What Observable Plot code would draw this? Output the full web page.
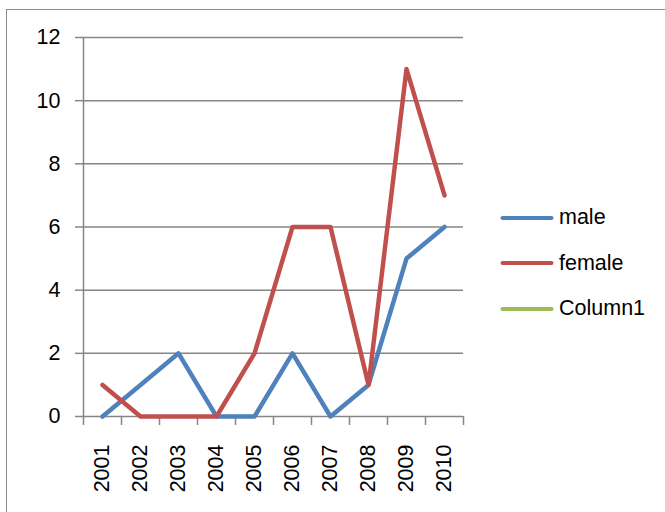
<!DOCTYPE html>
<html>
<head>
<meta charset="utf-8">
<script src="https://cdn.jsdelivr.net/npm/d3@7"></script>
<script src="https://cdn.jsdelivr.net/npm/@observablehq/plot@0.6"></script>
<style>
  html, body { margin: 0; padding: 0; background: #fff; overflow: hidden; }
  #wrap { position: relative; width: 665px; height: 512px; overflow: hidden; font-family: "Liberation Sans", Arial, sans-serif; }
  #border { position: absolute; left: 6px; top: 9px; width: 720px; height: 600px; border: 1.5px solid #8c8c8c; box-sizing: border-box; pointer-events: none; }
  #legend { position: absolute; left: 500px; top: 195px; font-size: 21.5px; color: #000; }
  .row { display: flex; align-items: center; height: 45.5px; }
  .row svg { margin-right: 5px; }
</style>
</head>
<body>
<div id="wrap">
  <div id="chart"></div>
  <div id="border"></div>
  <div id="legend"></div>
</div>
<script>
const years = [2001, 2002, 2003, 2004, 2005, 2006, 2007, 2008, 2009, 2010];
const male = [0, 1, 2, 0, 0, 2, 0, 1, 5, 6];
const female = [1, 0, 0, 0, 2, 6, 6, 1, 11, 7];
const column1 = []; // empty series, legend only
const seriesNames = ["male", "female", "Column1"];
const seriesColors = ["#4F81BD", "#C0504D", "#9BBB59"];
const yTicks = [0, 2, 4, 6, 8, 10, 12];

const seriesValues = [male, female, column1];
const data = [];
seriesNames.forEach((s, k) => {
  seriesValues[k].forEach((v, i) => data.push({ i, year: years[i], series: s, value: v }));
});

const gray = "#868686";
const plot = Plot.plot({
  width: 665,
  height: 512,
  marginLeft: 83,
  marginRight: 202,
  marginTop: 37,
  marginBottom: 96,
  style: { fontFamily: "Liberation Sans, Arial, sans-serif", fontSize: "21.5px", color: "#000", background: "transparent" },
  x: { domain: [0, years.length] },
  y: { domain: [0, 12] },
  color: { domain: seriesNames, range: seriesColors },
  marks: [
    Plot.gridY(yTicks, { stroke: gray, strokeOpacity: 1, strokeWidth: 1.5 }),
    Plot.axisY(yTicks, { tickSize: 8, tickPadding: 15, stroke: gray, strokeWidth: 1.5, fill: "#000", label: null }),
    Plot.ruleX([0], { stroke: gray, strokeWidth: 1.5 }),
    Plot.axisX(d3.range(0, years.length + 1), { tickSize: 9, tickFormat: () => "", stroke: gray, strokeWidth: 1.5, label: null }),
    Plot.axisX(years.map((_, i) => i + 0.5), {
      tickSize: 0, tickPadding: 28, tickRotate: -90, textAnchor: "end",
      tickFormat: d => String(years[Math.floor(d)]), fill: "#000", label: null
    }),
    Plot.line(data, {
      x: d => d.i + 0.5, y: "value", z: "series", stroke: "series",
      strokeWidth: 4.5, strokeLinejoin: "round", strokeLinecap: "round"
    })
  ]
});
document.getElementById("chart").appendChild(plot);

const legend = document.getElementById("legend");
seriesNames.forEach((s, k) => {
  const row = document.createElement("div");
  row.className = "row";
  row.innerHTML = `<svg width="54" height="8"><line x1="2.5" y1="4" x2="51.5" y2="4" stroke="${seriesColors[k]}" stroke-width="4" stroke-linecap="round"/></svg><span>${s}</span>`;
  legend.appendChild(row);
});
</script>
</body>
</html>
